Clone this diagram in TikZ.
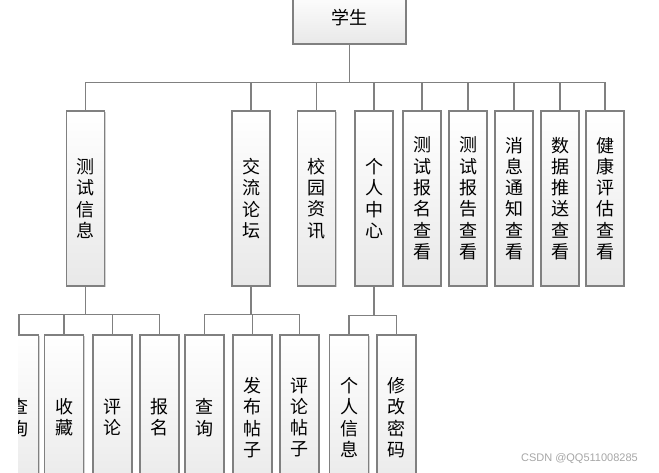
\documentclass[tikz,border=0pt]{standalone}
\usepackage{fontspec}
\setmainfont{Noto Sans CJK SC}
\newfontfamily\wmfont{Liberation Sans}
\usetikzlibrary{shadows}
\definecolor{lc}{RGB}{128,128,128}
\begin{document}
\begin{tikzpicture}[x=1pt,y=-1pt,
  box/.style={draw=lc, line width=1.1pt, top color=white, bottom color=black!9,
    inner sep=0pt, align=center, font=\fontsize{18}{21.3}\selectfont,
    drop shadow={shadow xshift=1.2pt, shadow yshift=-1.2pt, opacity=0.35, fill=black!50}},
  lone/.style={box, minimum width=38pt, minimum height=175pt},
  ltwo/.style={box, minimum width=39pt, minimum height=165pt},
  conn/.style={draw=lc, line width=1.2pt}]
\useasboundingbox (0,0) rectangle (659,473);
% root
\node[box, minimum width=113pt, minimum height=52pt] (root) at (349.5,18) {学生};
% level 1
\node[lone] (cs) at (85.5,198.5) {测\\试\\信\\息};
\node[lone] (jl) at (251,198.5) {交\\流\\论\\坛};
\node[lone] (xy) at (316.5,198.5) {校\\园\\资\\讯};
\node[lone] (gr) at (374,198.5) {个\\人\\中\\心};
\node[lone] (bm) at (422,198.5) {测\\试\\报\\名\\查\\看};
\node[lone] (bg) at (468,198.5) {测\\试\\报\\告\\查\\看};
\node[lone] (xx) at (514,198.5) {消\\息\\通\\知\\查\\看};
\node[lone] (sj) at (560,198.5) {数\\据\\推\\送\\查\\看};
\node[lone] (jk) at (605,198.5) {健\\康\\评\\估\\查\\看};
% level 2
\begin{scope}
\clip (18,300) rectangle (120,480);
\node[ltwo] (a1) at (19,417.5) {查\\询};
\end{scope}
\node[ltwo] (a2) at (64,417.5) {收\\藏};
\node[ltwo] (a3) at (112.5,417.5) {评\\论};
\node[ltwo] (a4) at (159.5,417.5) {报\\名};
\node[ltwo] (b1) at (204.5,417.5) {查\\询};
\node[ltwo] (b2) at (252.5,417.5) {发\\布\\帖\\子};
\node[ltwo] (b3) at (299.5,417.5) {评\\论\\帖\\子};
\node[ltwo] (c1) at (349,417.5) {个\\人\\信\\息};
\node[ltwo] (c2) at (396.5,417.5) {修\\改\\密\\码};
% connectors
\foreach \c in {cs,jl,xy,gr,bm,bg,xx,sj,jk}
  \draw[conn] (root.south) -- ++(0,38) -| (\c.north);
\foreach \c in {a1,a2,a3,a4}
  \draw[conn] (cs.south) -- ++(0,28) -| (\c.north);
\foreach \c in {b1,b2,b3}
  \draw[conn] (jl.south) -- ++(0,28) -| (\c.north);
\foreach \c in {c1,c2}
  \draw[conn] (gr.south) -- ++(0,29) -| (\c.north);
% watermark
\node[anchor=east, text=black!35, font=\wmfont\fontsize{11}{13}\selectfont, inner sep=0pt] (wm) at (638,459) {CSDN @QQ511008285};
\end{tikzpicture}
\end{document}
